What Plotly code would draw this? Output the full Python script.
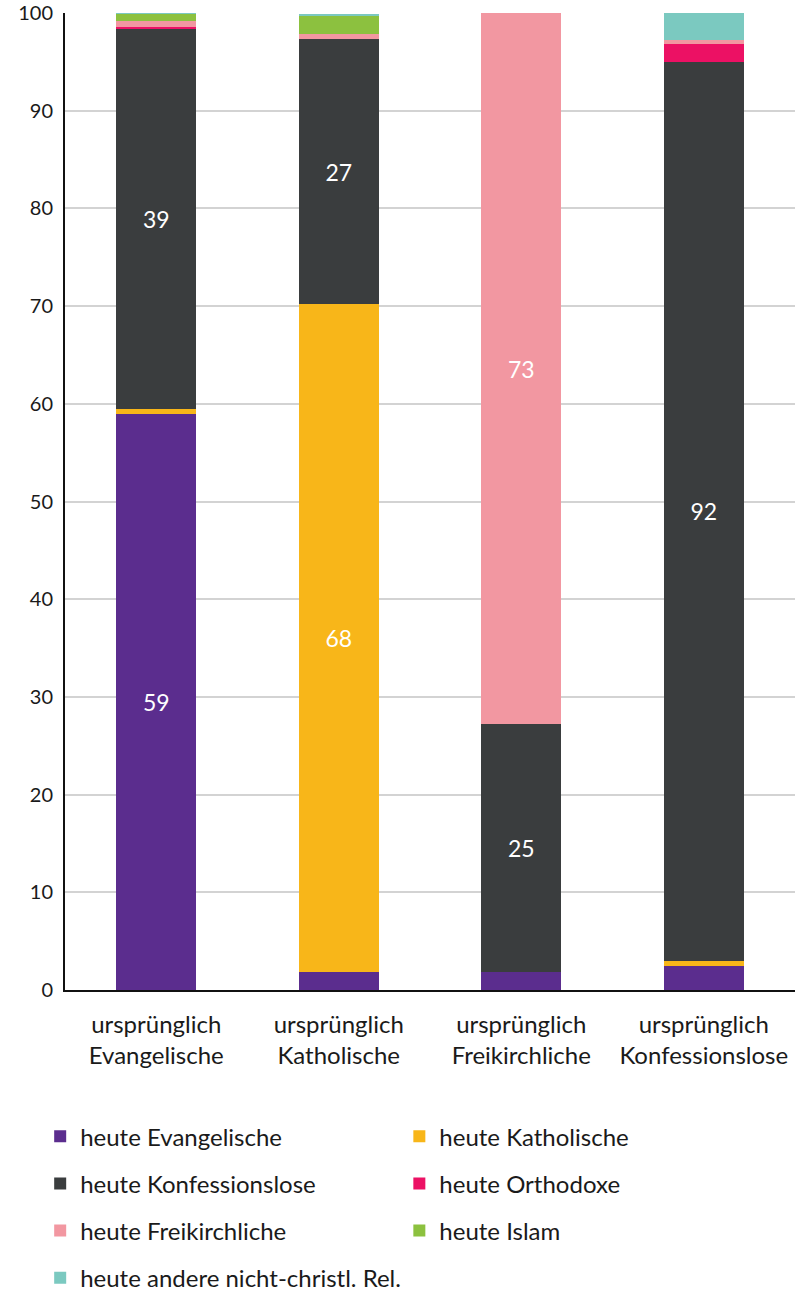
import plotly.graph_objects as go

# Original denomination (x categories)
categories = [
    "ursprünglich<br>Evangelische",
    "ursprünglich<br>Katholische",
    "ursprünglich<br>Freikirchliche",
    "ursprünglich<br>Konfessionslose",
]

# Current affiliation shares in percent, per original denomination
heute_evangelische = [59.0, 1.8, 1.8, 2.5]
heute_katholische = [0.5, 68.4, 0.0, 0.5]
heute_konfessionslose = [38.9, 27.1, 25.4, 92.0]
heute_orthodoxe = [0.2, 0.0, 0.0, 1.8]
heute_freikirchliche = [0.6, 0.6, 72.8, 0.4]
heute_islam = [0.7, 1.8, 0.0, 0.0]
heute_andere = [0.1, 0.1, 0.0, 2.8]

y_ticks = [0, 10, 20, 30, 40, 50, 60, 70, 80, 90, 100]

series = [
    ("heute Evangelische", heute_evangelische, "#5B2D8E", "legend"),
    ("heute Katholische", heute_katholische, "#F8B619", "legend2"),
    ("heute Konfessionslose", heute_konfessionslose, "#3A3D3E", "legend"),
    ("heute Orthodoxe", heute_orthodoxe, "#EC1164", "legend2"),
    ("heute Freikirchliche", heute_freikirchliche, "#F297A1", "legend"),
    ("heute Islam", heute_islam, "#8CC13F", "legend2"),
    ("heute andere nicht-christl. Rel.", heute_andere, "#7BC9C0", "legend"),
]

FONT = "Lato, 'Noto Sans', sans-serif"
TXT = "#1a1a1a"

fig = go.Figure()
for i, (name, vals, color, leg) in enumerate(series):
    labels = [f"{v:.0f}" if v >= 10 else "" for v in vals]
    fig.add_trace(go.Bar(
        name=name,
        x=categories,
        y=vals,
        marker=dict(color=color, line=dict(width=0)),
        text=labels,
        textposition="inside",
        insidetextanchor="middle",
        textangle=0,
        constraintext="none",
        textfont=dict(color="white", size=23, family=FONT),
        hoverinfo="skip",
        legend=leg,
        legendgroup=f"g{i}",
    ))

legend_common = dict(
    orientation="v",
    font=dict(size=24, family=FONT, color=TXT),
    traceorder="grouped",
    tracegroupgap=13,
    itemwidth=30,
    bgcolor="rgba(0,0,0,0)",
    xanchor="left",
    yanchor="top",
)

fig.update_layout(
    width=795,
    height=1293,
    barmode="stack",
    bargap=0.56,
    plot_bgcolor="white",
    paper_bgcolor="white",
    margin=dict(l=65, r=0, t=13, b=303, autoexpand=False),
    font=dict(family=FONT, size=24, color=TXT),
    legend=dict(x=-0.034, y=-0.127, yref="paper", **legend_common),
    legend2=dict(x=0.458, y=-0.127, yref="paper", **legend_common),
    xaxis=dict(
        showline=True,
        linecolor="#111111",
        linewidth=2,
        ticks="",
        ticklabelstandoff=12,
        tickfont=dict(size=24, family=FONT, color=TXT),
        showgrid=False,
        automargin=False,
    ),
    yaxis=dict(
        range=[0, 100],
        tickvals=y_ticks,
        showline=True,
        linecolor="#111111",
        linewidth=2,
        showgrid=True,
        gridcolor="#d3d3d3",
        gridwidth=1.5,
        ticks="",
        ticklabelstandoff=6,
        tickfont=dict(size=20, family=FONT, color=TXT),
        zeroline=False,
        automargin=False,
    ),
)

fig.write_html("out.html")
